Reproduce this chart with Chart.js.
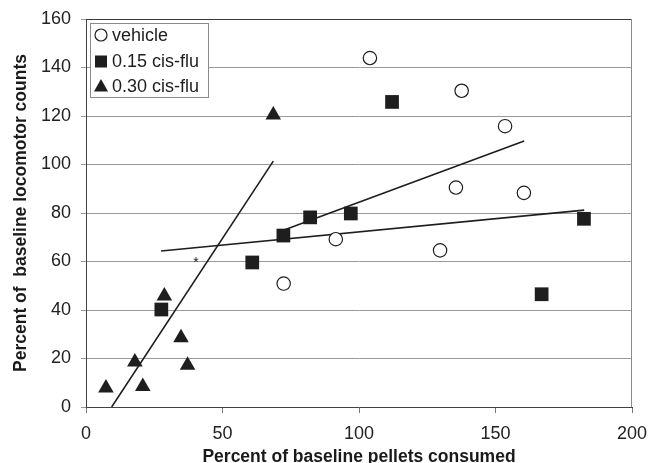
<!DOCTYPE html>
<html lang="en">
<head>
  <meta charset="UTF-8"/>
  <title>Locomotor counts vs pellets consumed</title>
  <script src="https://cdn.jsdelivr.net/npm/chart.js"></script>
  <style>
    body { margin:0; padding:0; background:#fff; }
    #wrap { width:649px; height:463px; }
  </style>
</head>
<body>
<div id="wrap"><canvas id="chart" width="649" height="463"></canvas></div>

<script>
  // data
  const seriesNames = ['vehicle', '0.15 cis-flu', '0.30 cis-flu'];

  const vehicleX = [72.4, 91.5, 104.0, 129.7, 135.5, 137.6, 153.5, 160.4];
  const vehicleY = [50.9, 69.2, 143.9, 64.6, 90.5, 130.4, 115.8, 88.3];

  const flu15X = [27.6, 60.9, 72.3, 82.1, 97.0, 112.1, 166.9, 182.4];
  const flu15Y = [40.2, 59.6, 70.7, 78.2, 79.8, 125.8, 46.5, 77.6];

  const flu30X = [7.3, 17.9, 20.8, 28.7, 34.8, 37.2, 68.6];
  const flu30Y = [7.8, 18.6, 8.5, 45.8, 28.6, 17.2, 120.4];

  // trend line end points
  const vehicleFitX = [72.3, 160.5];
  const vehicleFitY = [72.9, 109.7];
  const flu15FitX = [27.5, 182.5];
  const flu15FitY = [64.3, 81.2];
  const flu30FitX = [9.4, 68.6];
  const flu30FitY = [0, 101.4];

  // the "*" marker
  const starX = 40.3, starY = 60.3;

  const xTicks = [0, 50, 100, 150, 200];
  const yTicks = [0, 20, 40, 60, 80, 100, 120, 140, 160];

  const pts = (xs, ys) => xs.map((x, i) => ({x: x, y: ys[i]}));
  const FONT = 'Liberation Sans, Arial, sans-serif';
  const INK = '#1e1e1e';

  function fitLine(xs, ys){
    return {
      data: pts(xs, ys), showLine: true, pointRadius: 0, pointHoverRadius: 0,
      borderColor: INK, borderWidth: 1.6, fill: false, isFit: true
    };
  }

  // legend drawn inside the plot, plus frame and asterisk
  const extras = {
    id: 'extras',
    afterDatasetsDraw(chart){
      const ctx = chart.ctx, a = chart.chartArea;
      const sx = chart.scales.x, sy = chart.scales.y;
      ctx.save();
      // top & right frame
      ctx.lineWidth = 1;
      ctx.strokeStyle = '#3a3a3a';
      ctx.beginPath(); ctx.moveTo(a.left, a.top + 0.5); ctx.lineTo(a.right, a.top + 0.5); ctx.stroke();
      ctx.strokeStyle = '#8a8a8a';
      ctx.beginPath(); ctx.moveTo(a.right - 0.5, a.top); ctx.lineTo(a.right - 0.5, a.bottom); ctx.stroke();

      // asterisk
      ctx.fillStyle = INK;
      ctx.font = '14px ' + FONT;
      ctx.textAlign = 'center'; ctx.textBaseline = 'middle';
      ctx.fillText('*', sx.getPixelForValue(starX), sy.getPixelForValue(starY) + 2);

      // legend box
      const bx = a.left + 4, by = a.top + 4, bw = 118, bh = 74;
      ctx.fillStyle = '#fff';
      ctx.fillRect(bx, by, bw, bh);
      ctx.strokeStyle = '#8a8a8a';
      ctx.strokeRect(bx + 0.5, by + 0.5, bw, bh);
      ctx.font = '18px ' + FONT;
      ctx.textAlign = 'left';
      const rowY = [by + 12, by + 38.5, by + 63];
      const mx = bx + 11;
      // circle
      ctx.beginPath(); ctx.arc(mx, rowY[0], 6, 0, Math.PI * 2);
      ctx.fillStyle = '#fff'; ctx.fill(); ctx.strokeStyle = INK; ctx.lineWidth = 1.2; ctx.stroke();
      // square
      ctx.fillStyle = INK;
      ctx.fillRect(mx - 6, rowY[1] - 6, 12, 12);
      // triangle
      ctx.beginPath();
      ctx.moveTo(mx, rowY[2] - 7); ctx.lineTo(mx + 7, rowY[2] + 5.5); ctx.lineTo(mx - 7, rowY[2] + 5.5);
      ctx.closePath(); ctx.fill();
      ctx.fillStyle = INK;
      seriesNames.forEach((n, i) => ctx.fillText(n, bx + 22, rowY[i] + 1));
      ctx.restore();
    }
  };

  new Chart(document.getElementById('chart'), {
    type: 'scatter',
    data: {
      datasets: [
        { label: seriesNames[0], data: pts(vehicleX, vehicleY), pointStyle: 'circle', pointRadius: 6.7,
          backgroundColor: '#fff', borderColor: INK, borderWidth: 1.2 },
        { label: seriesNames[1], data: pts(flu15X, flu15Y), pointStyle: 'rect', pointRadius: 9.7,
          backgroundColor: INK, borderColor: INK, borderWidth: 0 },
        { label: seriesNames[2], data: pts(flu30X, flu30Y), pointStyle: 'triangle', pointRadius: 9,
          backgroundColor: INK, borderColor: INK, borderWidth: 0 },
        fitLine(vehicleFitX, vehicleFitY),
        fitLine(flu15FitX, flu15FitY),
        fitLine(flu30FitX, flu30FitY)
      ]
    },
    options: {
      responsive: false,
      animation: false,
      layout: { padding: { top: 19, right: 17, left: 0, bottom: 0 } },
      plugins: { legend: { display: false }, tooltip: { enabled: false } },
      scales: {
        x: {
          type: 'linear', min: 0, max: 200,
          afterBuildTicks: s => { s.ticks = xTicks.map(v => ({value: v})); },
          afterFit: s => { s.height = 56; s.paddingLeft = 0; s.paddingRight = 0; },
          grid: { drawOnChartArea: false, drawTicks: true, tickLength: 6, color: '#777' },
          border: { color: '#444', width: 1 },
          ticks: { color: '#222', font: { family: FONT, size: 18 }, padding: 10, maxRotation: 0 },
          title: { display: true, text: 'Percent of baseline pellets consumed', color: '#1a1a1a',
                   font: { family: FONT, size: 17.5, weight: 'bold', lineHeight: 0.7 },
                   padding: { top: 0, bottom: 0 } }
        },
        y: {
          type: 'linear', min: 0, max: 160,
          afterBuildTicks: s => { s.ticks = yTicks.map(v => ({value: v})); },
          afterFit: s => { s.width = 86; s.paddingTop = 0; s.paddingBottom = 0; },
          grid: { color: '#9a9a9a', lineWidth: 1, drawTicks: true, tickLength: 5 },
          border: { color: '#444', width: 1 },
          ticks: { color: '#222', font: { family: FONT, size: 18 }, padding: 10 },
          title: { display: true, text: 'Percent of  baseline locomotor counts', color: '#1a1a1a',
                   font: { family: FONT, size: 17.5, weight: 'bold', lineHeight: 1.2 },
                   padding: { top: 11, bottom: 0 } }
        }
      }
    },
    plugins: [extras]
  });
</script>
</body>
</html>
